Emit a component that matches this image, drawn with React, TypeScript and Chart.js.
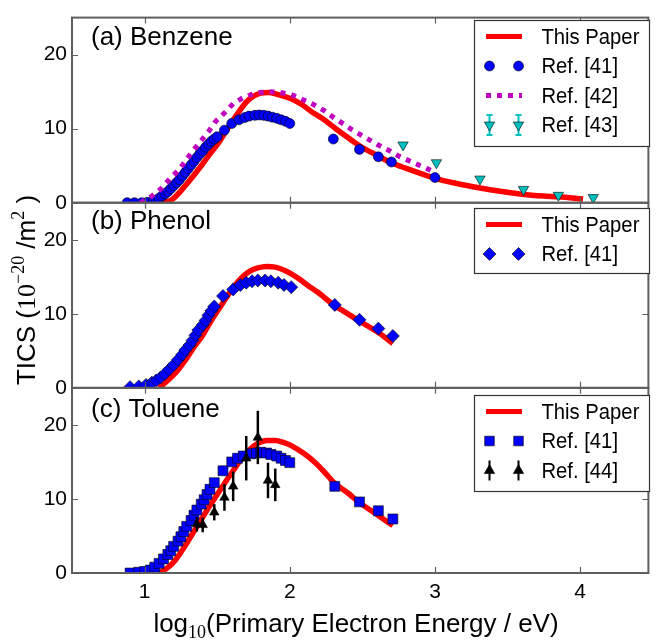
import React, { useEffect, useRef } from 'react';
import { Chart, registerables } from 'chart.js';

Chart.register(...registerables);

const SANS = '"Liberation Sans", Arial, Helvetica, sans-serif';
const SERIF = '"Liberation Serif", "DejaVu Serif", serif';

const RED = '#FF0000';
const BLUE = '#0000FF';
const MAGENTA = '#BF00BF';
const CYAN = '#00BFBF';
const BLACK = '#000000';
const FRAME = '#5f5f5f';

const X_TICKS = [1, 2, 3, 4];
const Y_TICKS = [0, 10, 20];
const PANEL_LABELS = ['(a) Benzene', '(b) Phenol', '(c) Toluene'];
const LEGEND_A = ['This Paper', 'Ref. [41]', 'Ref. [42]', 'Ref. [43]'];
const LEGEND_B = ['This Paper', 'Ref. [41]'];
const LEGEND_C = ['This Paper', 'Ref. [41]', 'Ref. [44]'];

// ---- Panel (a) Benzene ----
const aPaperX = [1.10, 1.15, 1.20, 1.28, 1.39, 1.45, 1.51, 1.58, 1.65, 1.70, 1.75, 1.80, 1.85, 1.92, 2.00, 2.08, 2.15, 2.23, 2.31, 2.40, 2.48, 2.61, 2.70, 2.85, 3.00, 3.15, 3.31, 3.45, 3.60, 3.75, 3.85, 4.02];
const aPaperY = [0, 0.1, 0.6, 2.3, 5.0, 6.6, 8.1, 10.3, 12.3, 13.6, 14.4, 14.8, 14.9, 14.6, 14.1, 13.3, 12.3, 11.3, 10.1, 8.8, 7.7, 6.3, 5.4, 4.3, 3.3, 2.6, 2.0, 1.55, 1.15, 0.9, 0.8, 0.5];

const aRef41X = [0.88, 0.93, 0.98, 1.02, 1.06, 1.08, 1.10, 1.12, 1.14, 1.16, 1.18, 1.20, 1.22, 1.24, 1.26, 1.28, 1.30, 1.32, 1.34, 1.36, 1.38, 1.40, 1.42, 1.44, 1.46, 1.48, 1.50, 1.55, 1.60, 1.65, 1.69, 1.72, 1.76, 1.79, 1.82, 1.85, 1.88, 1.91, 1.94, 1.97, 2.00, 2.30, 2.48, 2.61, 2.70, 3.00];
const aRef41Y = [0, 0, 0, 0.05, 0.2, 0.35, 0.6, 0.9, 1.2, 1.5, 1.9, 2.3, 2.7, 3.1, 3.6, 4.1, 4.6, 5.1, 5.6, 6.1, 6.6, 7.0, 7.5, 7.9, 8.3, 8.6, 8.9, 9.8, 10.7, 11.2, 11.5, 11.7, 11.8, 11.85, 11.8, 11.7, 11.55, 11.4, 11.2, 11.0, 10.7, 8.6, 7.2, 6.2, 5.5, 3.4];

const aRef42X = [0.97, 1.00, 1.05, 1.12, 1.18, 1.24, 1.29, 1.34, 1.39, 1.44, 1.49, 1.56, 1.61, 1.68, 1.76, 1.85, 1.93, 2.01, 2.08, 2.16, 2.24, 2.31, 2.38, 2.44, 2.52, 2.60, 2.68, 2.75, 2.83, 2.90, 2.98];
const aRef42Y = [0, 0.3, 0.9, 2.0, 3.4, 4.5, 5.9, 7.2, 8.4, 9.6, 11.0, 12.3, 13.4, 14.2, 14.8, 15.0, 14.9, 14.6, 14.0, 13.3, 12.4, 11.4, 10.5, 9.7, 8.8, 7.9, 7.1, 6.3, 5.6, 5.0, 4.3];

const aRef43X = [2.78, 3.01, 3.31, 3.61, 3.85, 4.09];
const aRef43Y = [7.8, 5.4, 3.2, 1.8, 1.0, 0.7];

// ---- Panel (b) Phenol ----
const bPaperX = [1.10, 1.17, 1.22, 1.28, 1.34, 1.40, 1.45, 1.51, 1.56, 1.62, 1.67, 1.72, 1.78, 1.84, 1.90, 1.97, 2.05, 2.12, 2.20, 2.31, 2.40, 2.48, 2.60, 2.71];
const bPaperY = [0, 1.2, 2.2, 3.7, 5.5, 7.1, 8.8, 10.6, 12.1, 13.8, 14.9, 15.7, 16.2, 16.4, 16.3, 15.8, 14.9, 13.9, 12.8, 11.1, 10.0, 9.0, 7.6, 6.0];

const bRef41X = [0.90, 0.96, 1.01, 1.05, 1.08, 1.11, 1.14, 1.17, 1.20, 1.23, 1.26, 1.28, 1.31, 1.33, 1.35, 1.37, 1.40, 1.42, 1.44, 1.46, 1.48, 1.54, 1.61, 1.66, 1.70, 1.74, 1.78, 1.83, 1.87, 1.92, 1.96, 2.01, 2.31, 2.48, 2.61, 2.71];
const bRef41Y = [0.1, 0.2, 0.4, 0.7, 1.0, 1.4, 1.9, 2.5, 3.1, 3.8, 4.5, 5.1, 5.8, 6.4, 7.1, 7.8, 8.5, 9.1, 9.8, 10.4, 11.0, 12.4, 13.3, 13.9, 14.2, 14.4, 14.5, 14.5, 14.4, 14.2, 13.9, 13.6, 11.2, 9.2, 8.0, 7.0];

// ---- Panel (c) Toluene ----
const cPaperX = [1.10, 1.15, 1.21, 1.27, 1.33, 1.39, 1.44, 1.50, 1.56, 1.62, 1.67, 1.72, 1.78, 1.84, 1.90, 1.96, 2.01, 2.10, 2.17, 2.24, 2.31, 2.40, 2.48, 2.60, 2.71];
const cPaperY = [0, 0.6, 1.7, 3.4, 5.3, 7.2, 8.8, 10.6, 12.4, 14.1, 15.5, 16.6, 17.5, 17.9, 17.9, 17.6, 17.2, 16.1, 15.0, 13.6, 12.1, 10.8, 9.5, 7.9, 6.4];

const cRef41X = [0.90, 0.96, 1.00, 1.04, 1.07, 1.10, 1.13, 1.16, 1.18, 1.20, 1.23, 1.25, 1.27, 1.29, 1.32, 1.34, 1.36, 1.39, 1.41, 1.43, 1.45, 1.48, 1.54, 1.60, 1.64, 1.68, 1.73, 1.77, 1.80, 1.84, 1.87, 1.91, 1.94, 1.97, 2.00, 2.31, 2.48, 2.61, 2.71];
const cRef41Y = [0, 0.1, 0.2, 0.4, 0.8, 1.3, 1.9, 2.5, 3.0, 3.6, 4.3, 4.9, 5.6, 6.3, 7.1, 7.8, 8.5, 9.3, 9.9, 10.6, 11.3, 12.2, 13.8, 15.0, 15.5, 15.8, 16.1, 16.2, 16.3, 16.2, 16.0, 15.8, 15.5, 15.2, 14.9, 11.7, 9.6, 8.4, 7.3];

const cRef44X = [1.36, 1.40, 1.48, 1.55, 1.61, 1.70, 1.78, 1.85, 1.90];
const cRef44Y = [6.6, 6.5, 8.2, 10.2, 11.7, 15.5, 18.3, 12.5, 11.9];
const cRef44Err = [1.0, 1.0, 1.1, 1.8, 2.0, 3.0, 3.6, 2.4, 2.2];

const pts = (xs: number[], ys: number[]) => xs.map((x, i) => ({ x, y: ys[i] }));

const lineDs = (xs: number[], ys: number[], axis: string) => ({
  label: 'This Paper',
  data: pts(xs, ys),
  yAxisID: axis,
  showLine: true,
  borderColor: RED,
  backgroundColor: RED,
  borderWidth: 5.5,
  pointRadius: 0,
  cubicInterpolationMode: 'monotone',
  fill: false,
  order: 5,
});

const markerDs = (label: string, xs: number[], ys: number[], axis: string, style: string, radius: number, color: string, order: number, rotation = 0) => ({
  label,
  data: pts(xs, ys),
  yAxisID: axis,
  showLine: false,
  pointStyle: style,
  pointRadius: radius,
  pointRotation: rotation,
  pointBackgroundColor: color,
  pointBorderColor: '#000',
  pointBorderWidth: 0.6,
  backgroundColor: color,
  borderColor: '#000',
  order,
});

function drawMarker(ctx: CanvasRenderingContext2D, style: string, x: number, y: number, r: number, fill: string) {
  ctx.beginPath();
  if (style === 'circle') ctx.arc(x, y, r, 0, Math.PI * 2);
  else if (style === 'diamond') {
    ctx.moveTo(x - r, y); ctx.lineTo(x, y - r); ctx.lineTo(x + r, y); ctx.lineTo(x, y + r); ctx.closePath();
  } else if (style === 'square') ctx.rect(x - r, y - r, 2 * r, 2 * r);
  else if (style === 'tridown') {
    ctx.moveTo(x, y + r); ctx.lineTo(x - r * 0.866, y - r / 2); ctx.lineTo(x + r * 0.866, y - r / 2); ctx.closePath();
  } else if (style === 'triup') {
    ctx.moveTo(x, y - r); ctx.lineTo(x - r * 0.866, y + r / 2); ctx.lineTo(x + r * 0.866, y + r / 2); ctx.closePath();
  }
  ctx.fillStyle = fill;
  ctx.fill();
  ctx.strokeStyle = '#000';
  ctx.lineWidth = 0.6;
  ctx.stroke();
}

function sqText(ctx: CanvasRenderingContext2D, s: string, x: number, y: number, font: string, sx: number) {
  ctx.save();
  ctx.translate(x, y);
  ctx.scale(sx, 1);
  ctx.font = font;
  ctx.fillText(s, 0, 0);
  ctx.restore();
}

type Seg = { t: string; font: string; dy: number };
function drawSegs(ctx: CanvasRenderingContext2D, segs: Seg[], cx: number, y: number) {
  let total = 0;
  const widths = segs.map((s) => { ctx.font = s.font; const w = ctx.measureText(s.t).width; total += w; return w; });
  let x = cx - total / 2;
  ctx.textAlign = 'left';
  ctx.textBaseline = 'alphabetic';
  segs.forEach((s, i) => { ctx.font = s.font; ctx.fillText(s.t, x, y + s.dy); x += widths[i]; });
}

const LEG_X0 = 474, LEG_X1 = 649;
const LEG_TOPS = [20, 208, 395];
const LEG_H = [126, 65, 96];

function drawLegendEntry(ctx: CanvasRenderingContext2D, kind: string, label: string, y: number) {
  ctx.save();
  const m1 = 489.5, m2 = 518.5;
  if (kind === 'line') {
    ctx.strokeStyle = RED; ctx.lineWidth = 5; ctx.lineCap = 'butt';
    ctx.beginPath(); ctx.moveTo(486, y); ctx.lineTo(522, y); ctx.stroke();
  } else if (kind === 'dots') {
    ctx.strokeStyle = MAGENTA; ctx.lineWidth = 5; ctx.setLineDash([5, 6]);
    ctx.beginPath(); ctx.moveTo(486, y); ctx.lineTo(522, y); ctx.stroke();
  } else if (kind === 'circle') {
    drawMarker(ctx, 'circle', m1, y, 5, BLUE); drawMarker(ctx, 'circle', m2, y, 5, BLUE);
  } else if (kind === 'diamond') {
    drawMarker(ctx, 'diamond', m1, y, 6.5, BLUE); drawMarker(ctx, 'diamond', m2, y, 6.5, BLUE);
  } else if (kind === 'square') {
    drawMarker(ctx, 'square', m1, y, 4.8, BLUE); drawMarker(ctx, 'square', m2, y, 4.8, BLUE);
  } else if (kind === 'tridown' || kind === 'triup') {
    const col = kind === 'tridown' ? CYAN : BLACK;
    [m1, m2].forEach((m) => {
      ctx.strokeStyle = col; ctx.lineWidth = 2;
      ctx.beginPath(); ctx.moveTo(m, y - 10); ctx.lineTo(m, y + 10);
      if (kind === 'tridown') { ctx.moveTo(m - 3, y - 10); ctx.lineTo(m + 3, y - 10); ctx.moveTo(m - 3, y + 10); ctx.lineTo(m + 3, y + 10); }
      ctx.stroke();
      drawMarker(ctx, kind, m, y, 6, col);
    });
  }
  ctx.fillStyle = '#000';
  ctx.textBaseline = 'middle';
  ctx.textAlign = 'left';
  sqText(ctx, label, 541.5, y + 1, `22px ${SANS}`, 0.92);
  ctx.restore();
}

const panelsPlugin = {
  id: 'panels',
  afterDatasetsDraw(chart: any) {
    const ctx: CanvasRenderingContext2D = chart.ctx;
    const xs = chart.scales.x;
    const { left, right } = chart.chartArea;

    // error bars of Ref. [44]
    const ycs = chart.scales.yc;
    ctx.save();
    ctx.strokeStyle = BLACK; ctx.lineWidth = 2.5;
    cRef44X.forEach((x, i) => {
      const px = xs.getPixelForValue(x);
      ctx.beginPath();
      ctx.moveTo(px, ycs.getPixelForValue(cRef44Y[i] - cRef44Err[i]));
      ctx.lineTo(px, ycs.getPixelForValue(cRef44Y[i] + cRef44Err[i]));
      ctx.stroke();
    });
    ctx.restore();

    const legends = [LEGEND_A, LEGEND_B, LEGEND_C];
    const kinds = [['line', 'circle', 'dots', 'tridown'], ['line', 'diamond'], ['line', 'square', 'triup']];
    const labelBase = [45, 229, 417];

    ['ya', 'yb', 'yc'].forEach((id, k) => {
      const s = chart.scales[id];
      ctx.save();
      ctx.strokeStyle = FRAME; ctx.lineWidth = 2;
      ctx.strokeRect(left, s.top, right - left, s.bottom - s.top);
      ctx.lineWidth = 1.2;
      ctx.beginPath();
      X_TICKS.forEach((v) => {
        const px = Math.round(xs.getPixelForValue(v)) + 0.5;
        ctx.moveTo(px, s.top); ctx.lineTo(px, s.top + 6);
        ctx.moveTo(px, s.bottom); ctx.lineTo(px, s.bottom - 6);
      });
      Y_TICKS.forEach((v) => {
        const py = Math.round(s.getPixelForValue(v)) + 0.5;
        ctx.moveTo(left, py); ctx.lineTo(left + 6, py);
        ctx.moveTo(right, py); ctx.lineTo(right - 6, py);
      });
      ctx.stroke();

      // panel label
      ctx.fillStyle = '#000';
      ctx.textAlign = 'left';
      ctx.textBaseline = 'alphabetic';
      ctx.font = `26px ${SANS}`;
      ctx.fillText(PANEL_LABELS[k], 91, labelBase[k]);

      // legend box
      ctx.fillStyle = '#fff';
      ctx.fillRect(LEG_X0, LEG_TOPS[k], LEG_X1 - LEG_X0, LEG_H[k]);
      ctx.strokeStyle = '#333'; ctx.lineWidth = 1.2;
      ctx.strokeRect(LEG_X0 + 0.5, LEG_TOPS[k] + 0.5, LEG_X1 - LEG_X0, LEG_H[k]);
      legends[k].forEach((lab, j) => {
        drawLegendEntry(ctx, kinds[k][j], lab, LEG_TOPS[k] + 16.5 + j * 29.5);
      });
      ctx.restore();
    });

    // axis titles
    ctx.save();
    ctx.fillStyle = '#000';
    drawSegs(ctx, [
      { t: 'log', font: `26px ${SANS}`, dy: 0 },
      { t: '10', font: `18px ${SERIF}`, dy: 6 },
      { t: '(Primary Electron Energy / eV)', font: `26px ${SANS}`, dy: 0 },
    ], 356, 632);
    ctx.translate(35, 290);
    ctx.rotate(-Math.PI / 2);
    drawSegs(ctx, [
      { t: 'TICS (', font: `26px ${SANS}`, dy: 0 },
      { t: '10', font: `26px ${SERIF}`, dy: 0 },
      { t: '\u221220', font: `18px ${SERIF}`, dy: -11 },
      { t: ' /m', font: `26px ${SANS}`, dy: 0 },
      { t: '2', font: `18px ${SERIF}`, dy: -11 },
      { t: ' )', font: `26px ${SANS}`, dy: 0 },
    ], 0, 0);
    ctx.restore();
  },
};

const yAxis = () => ({
  type: 'linear',
  position: 'left',
  stack: 'panels',
  stackWeight: 1,
  min: 0,
  max: 25,
  grid: { display: false, drawTicks: false },
  border: { display: false },
  ticks: { padding: 5, color: '#000', font: { family: SANS, size: 21 } },
  afterBuildTicks: (axis: any) => { axis.ticks = Y_TICKS.map((v) => ({ value: v })); },
  afterFit: (axis: any) => { axis.width = 72; },
});

export default function App() {
  const ref = useRef<HTMLCanvasElement>(null);
  useEffect(() => {
    const chart = new Chart(ref.current as HTMLCanvasElement, {
      type: 'scatter',
      data: {
        datasets: [
          lineDs(aPaperX, aPaperY, 'ya'),
          markerDs('Ref. [41]', aRef41X, aRef41Y, 'ya', 'circle', 5, BLUE, 4),
          {
            label: 'Ref. [42]',
            data: pts(aRef42X, aRef42Y),
            yAxisID: 'ya',
            showLine: true,
            borderColor: MAGENTA,
            backgroundColor: MAGENTA,
            borderWidth: 5,
            borderDash: [5, 6],
            borderCapStyle: 'butt',
            pointRadius: 0,
            tension: 0,
            fill: false,
            order: 3,
          },
          markerDs('Ref. [43]', aRef43X, aRef43Y, 'ya', 'triangle', 6, CYAN, 2, 180),
          lineDs(bPaperX, bPaperY, 'yb'),
          markerDs('Ref. [41]', bRef41X, bRef41Y, 'yb', 'rectRot', 6.5, BLUE, 4),
          lineDs(cPaperX, cPaperY, 'yc'),
          markerDs('Ref. [41]', cRef41X, cRef41Y, 'yc', 'rect', 7, BLUE, 4),
          markerDs('Ref. [44]', cRef44X, cRef44Y, 'yc', 'triangle', 5.5, BLACK, 2),
        ] as any,
      },
      options: {
        animation: false,
        responsive: true,
        maintainAspectRatio: false,
        layout: { padding: { top: 9, right: 1, left: 0, bottom: 0 } },
        plugins: { legend: { display: false }, tooltip: { enabled: false } },
        scales: {
          x: {
            type: 'linear',
            position: 'bottom',
            min: 0.5,
            max: 4.47,
            grid: { display: false, drawTicks: false },
            border: { display: false },
            ticks: { padding: 7, color: '#000', font: { family: SANS, size: 21 } },
            afterBuildTicks: (axis: any) => { axis.ticks = X_TICKS.map((v) => ({ value: v })); },
            afterFit: (axis: any) => { axis.height = 69; },
          },
          yc: yAxis(),
          yb: yAxis(),
          ya: yAxis(),
        } as any,
      },
      plugins: [panelsPlugin],
    });
    return () => chart.destroy();
  }, []);
  return (
    <div style={{ position: 'absolute', left: 0, top: 0, width: 656, height: 642 }}>
      <canvas ref={ref} />
    </div>
  );
}
